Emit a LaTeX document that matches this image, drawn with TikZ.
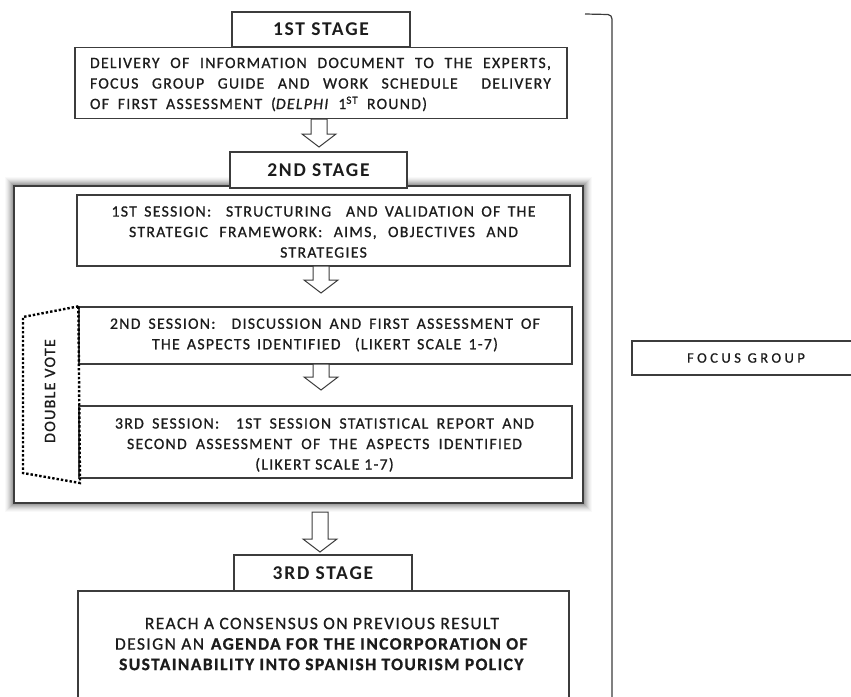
\documentclass[tikz,border=0pt]{standalone}
\usepackage{fontspec}
\setmainfont{Carlito}
\newfontfamily\bodyf[LetterSpace=8,FakeBold=0.8]{Carlito}
\newfontfamily\stagef[LetterSpace=9]{Carlito}
\newfontfamily\focusf[LetterSpace=24,FakeBold=0.8]{Carlito}
\usetikzlibrary{calc}
\definecolor{txt}{HTML}{1C1C1C}
\definecolor{ln}{HTML}{3C3C3C}
\newcommand\hollowarrow[2]{%
  \draw[harrow] let \p1=(#1), \p2=(#2) in
    (\x1-8pt,\y1) -- (\x1+8pt,\y1) -- (\x1+8pt,\y2+13pt) -- (\x1+17pt,\y2+13pt)
    -- (\x1,\y2) -- (\x1-17pt,\y2+13pt) -- (\x1-8pt,\y2+13pt) -- cycle;}
\begin{document}
\begin{tikzpicture}[x=1pt,y=-1pt,
  box/.style={draw=ln, line width=1.3pt, fill=white, rectangle, inner sep=0pt, text=txt},
  stagebox/.style={box, font=\stagef\bfseries\fontsize{19.5}{21}\selectfont},
  bodytext/.style={text=txt, inner sep=0pt, font=\bodyf\fontsize{15.8}{20.5}\selectfont, align=center},
  harrow/.style={draw=ln, line width=1pt, fill=white, line join=miter},
  dvline/.style={draw=black, line width=2.4pt, dash pattern=on 2.4pt off 2pt}
]
\useasboundingbox (0,0) rectangle (851,696);
\begin{scope}
\clip (0,0) rectangle (851,696);

% right bracket
\coordinate (brA) at (585,14);
\coordinate (brB) at (612,700);
\draw[ln, line width=1.2pt] (brA) -- (608,14.5) to[out=0,in=90] (612,19) -- (brB);

% focus group
\node[box, minimum width=228, minimum height=34, font=\focusf\fontsize{14.5}{16}\selectfont] (focus) at (746,358) {FOCUS GROUP};

% stage 1
\node[box, minimum width=492, minimum height=71] (del) at (321,83) {};
\node[bodytext, align=left] at (320.5,84.5) {%
\makebox[461pt][s]{DELIVERY OF INFORMATION DOCUMENT TO THE EXPERTS,}\\
\makebox[461pt][s]{FOCUS GROUP GUIDE AND WORK SCHEDULE\hspace{10pt} DELIVERY}\\
\makebox[337pt][s]{OF FIRST ASSESSMENT (\textit{DELPHI} 1\textsuperscript{ST} ROUND)}};
\node[stagebox, minimum width=178, minimum height=35] (st1) at (321,29.5) {1ST STAGE};

\coordinate (a1t) at (319,119);
\coordinate (a1b) at (319,147);
\hollowarrow{a1t}{a1b}

% container with shadow
\path node[inner sep=0pt, minimum width=569, minimum height=317] (cont) at (298.5,344.5) {};
\foreach \i/\o in {9/0.025,8/0.03,7/0.04,6/0.05,5/0.06,4/0.07,3/0.08,2/0.09,1/0.10}
  \fill[black, opacity=\o] ($(cont.north west)+(-\i,-\i)$) rectangle ($(cont.south east)+(\i,\i)$);
\draw[ln, line width=1.6pt, fill=white] (cont.north west) rectangle (cont.south east);

\node[stagebox, minimum width=177, minimum height=36] (st2) at (318.5,170) {2ND STAGE};

% sessions
\node[box, minimum width=493, minimum height=71] (s1) at (323.5,230.5) {};
\node[bodytext] at (323.5,232) {%
\makebox[424pt][s]{1ST SESSION:\ \ STRUCTURING\ \ AND VALIDATION OF THE}\\
\makebox[389pt][s]{STRATEGIC FRAMEWORK: AIMS, OBJECTIVES AND}\\
STRATEGIES};

\coordinate (a2t) at (321,266);
\coordinate (a2b) at (321,293);
\hollowarrow{a2t}{a2b}

\node[box, minimum width=493, minimum height=57] (s2) at (325.5,335.5) {};
\node[bodytext] at (325,335) {%
\makebox[430pt][s]{2ND SESSION:\ \ DISCUSSION AND FIRST ASSESSMENT OF}\\
\makebox[346pt][s]{THE ASPECTS IDENTIFIED\ \ (LIKERT SCALE 1-7)}};

\coordinate (a3t) at (321,364);
\coordinate (a3b) at (321,390);
\hollowarrow{a3t}{a3b}

\node[box, minimum width=493, minimum height=72] (s3) at (325.5,442) {};
\node[bodytext] at (324.5,445) {%
\makebox[419pt][s]{3RD SESSION:\ \ 1ST SESSION STATISTICAL REPORT AND}\\
\makebox[395pt][s]{SECOND ASSESSMENT OF THE ASPECTS IDENTIFIED}\\
(LIKERT SCALE 1-7)};

% double vote
\coordinate (dvA) at (23,317);
\coordinate (dvB) at (23,473);
\coordinate (dvC) at (80,483);
\draw[dvline] (s2.north west) -- (dvA) -- (dvB) -- (dvC) -- cycle;
\node[text=txt, inner sep=0pt, rotate=90, font=\bodyf\fontsize{16}{18}\selectfont] (dv) at (50,391) {DOUBLE VOTE};

\coordinate (a4t) at (320,512);
\coordinate (a4b) at (320,552);
\hollowarrow{a4t}{a4b}

% stage 3
\node[box, minimum width=491, minimum height=129] (fin) at (323.5,655.5) {};
\node[stagebox, minimum width=178, minimum height=36] (st3) at (323,573) {3RD STAGE};
\node[text=txt, inner sep=0pt, align=center, font=\bodyf\fontsize{17.5}{20.5}\selectfont] at (322,644) {%
REACH A CONSENSUS ON PREVIOUS RESULT\\
DESIGN AN \textbf{AGENDA FOR THE INCORPORATION OF}\\
\textbf{SUSTAINABILITY INTO SPANISH TOURISM POLICY}};
\end{scope}
\end{tikzpicture}
\end{document}
